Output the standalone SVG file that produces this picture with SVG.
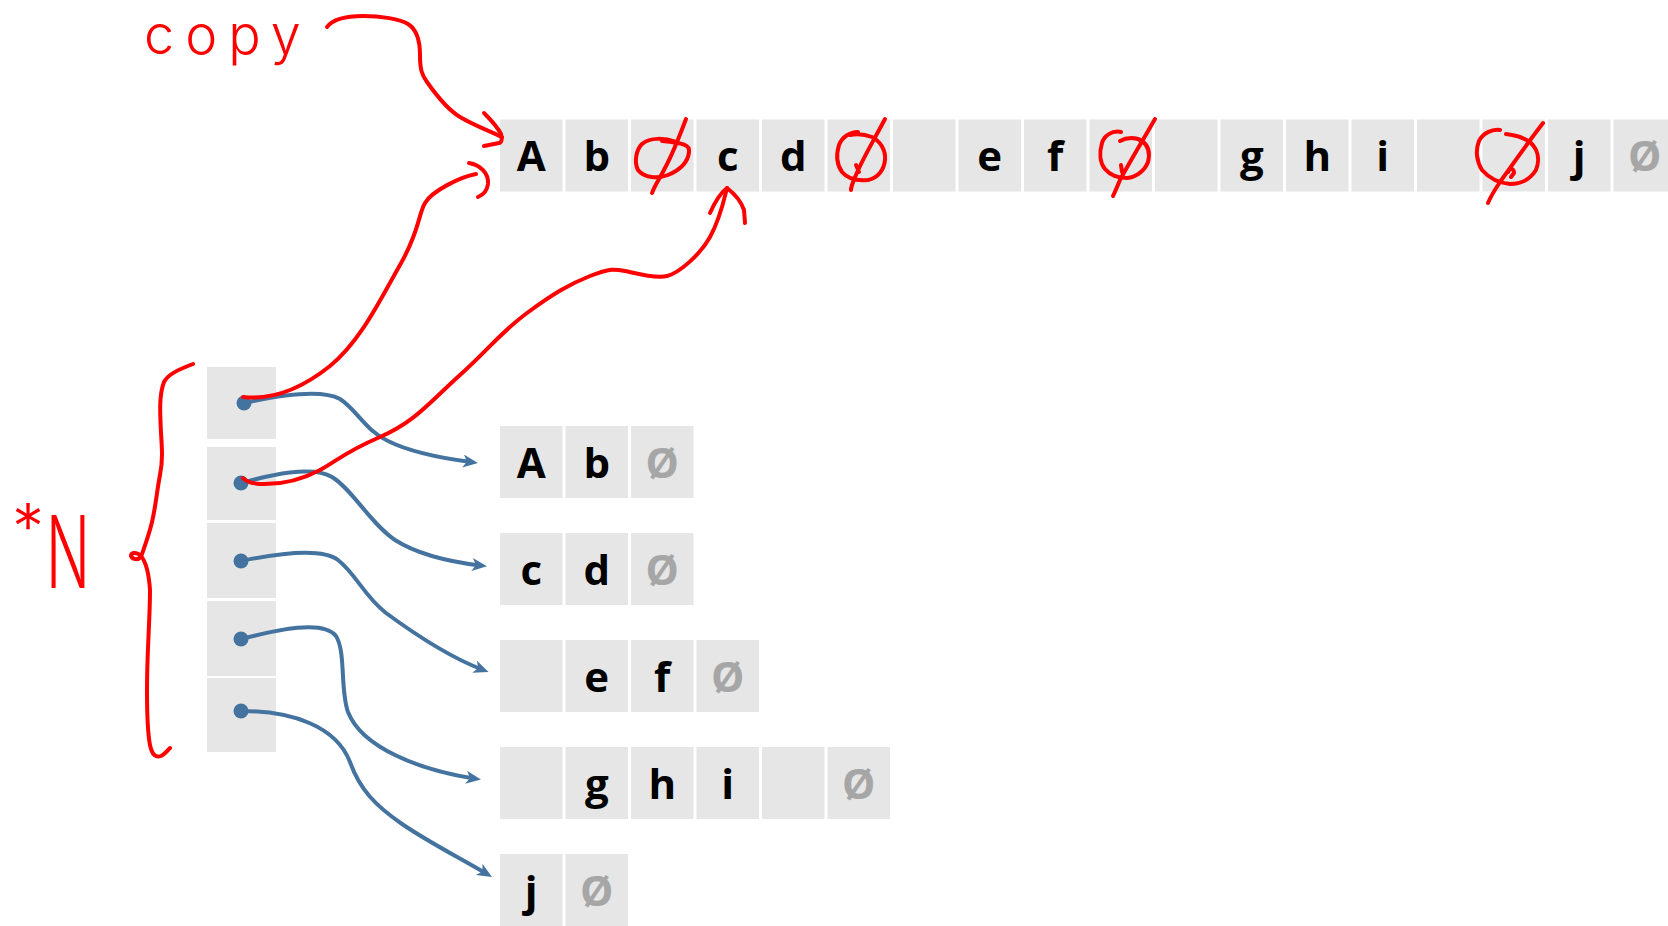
<svg xmlns="http://www.w3.org/2000/svg" width="1668" height="926" viewBox="0 0 1668 926">
<defs>
<style>
.cell{fill:#e6e6e6}
.t{font-family:"Open Sans","Liberation Sans",sans-serif;font-weight:700;font-size:42px;text-anchor:middle;fill:#000}
.n{fill:#a6a6a6}
.ink{fill:none;stroke:#ff0000;stroke-width:4;stroke-linecap:round;stroke-linejoin:round}
.hand{font-family:Inter,"Liberation Sans",sans-serif;font-weight:300;fill:#ff0000}
.conn{fill:none;stroke:#44739f;stroke-width:4}
.dot{fill:#44739f}
</style>
<marker id="arr" markerUnits="userSpaceOnUse" markerWidth="16" markerHeight="14" refX="8" refY="6.5" orient="auto">
<path d="M0,0 L15,6.5 L0,13 L4,6.5 Z" fill="#44739f"/>
</marker>
</defs>
<rect width="1668" height="926" fill="#ffffff"/>

<!-- top row -->
<g id="top-row">
<g id="top-0"><rect class="cell" x="500" y="119.5" width="62.5" height="72"/><text class="t" x="531.25" y="171">A</text></g>
<g id="top-1"><rect class="cell" x="565.5" y="119.5" width="62.5" height="72"/><text class="t" x="596.75" y="171">b</text></g>
<g id="top-2"><rect class="cell" x="631" y="119.5" width="62.5" height="72"/></g>
<g id="top-3"><rect class="cell" x="696.5" y="119.5" width="62.5" height="72"/><text class="t" x="727.75" y="171">c</text></g>
<g id="top-4"><rect class="cell" x="762" y="119.5" width="62.5" height="72"/><text class="t" x="793.25" y="171">d</text></g>
<g id="top-5"><rect class="cell" x="827.5" y="119.5" width="62.5" height="72"/></g>
<g id="top-6"><rect class="cell" x="893" y="119.5" width="62.5" height="72"/></g>
<g id="top-7"><rect class="cell" x="958.5" y="119.5" width="62.5" height="72"/><text class="t" x="989.75" y="171">e</text></g>
<g id="top-8"><rect class="cell" x="1024" y="119.5" width="62.5" height="72"/><text class="t" x="1055.25" y="171">f</text></g>
<g id="top-9"><rect class="cell" x="1089.5" y="119.5" width="62.5" height="72"/></g>
<g id="top-10"><rect class="cell" x="1155" y="119.5" width="62.5" height="72"/></g>
<g id="top-11"><rect class="cell" x="1220.5" y="119.5" width="62.5" height="72"/><text class="t" x="1251.75" y="171">g</text></g>
<g id="top-12"><rect class="cell" x="1286" y="119.5" width="62.5" height="72"/><text class="t" x="1317.25" y="171">h</text></g>
<g id="top-13"><rect class="cell" x="1351.5" y="119.5" width="62.5" height="72"/><text class="t" x="1382.75" y="171">i</text></g>
<g id="top-14"><rect class="cell" x="1417" y="119.5" width="62.5" height="72"/></g>
<g id="top-15"><rect class="cell" x="1482.5" y="119.5" width="62.5" height="72"/></g>
<g id="top-16"><rect class="cell" x="1548" y="119.5" width="62.5" height="72"/><text class="t" x="1579.25" y="171">j</text></g>
<g id="top-17"><rect class="cell" x="1613.5" y="119.5" width="62.5" height="72"/><text class="t n" x="1644.75" y="171">Ø</text></g>
</g>

<!-- pointer column -->
<g id="ptr-1"><rect class="cell" x="207" y="367" width="69" height="72"/><circle class="dot" cx="244" cy="403" r="7.5"/></g>
<g id="ptr-2"><rect class="cell" x="207" y="447" width="69" height="73"/><circle class="dot" cx="241" cy="483" r="7.5"/></g>
<g id="ptr-3"><rect class="cell" x="207" y="523" width="69" height="75"/><circle class="dot" cx="241" cy="561" r="7.5"/></g>
<g id="ptr-4"><rect class="cell" x="207" y="601" width="69" height="75"/><circle class="dot" cx="241" cy="639" r="7.5"/></g>
<g id="ptr-5"><rect class="cell" x="207" y="678" width="69" height="74"/><circle class="dot" cx="241" cy="711" r="7.5"/></g>

<!-- lower rows -->
<g id="row-1">
<g id="r1-0"><rect class="cell" x="500" y="426" width="62.5" height="72"/><text class="t" x="531.25" y="478">A</text></g>
<g id="r1-1"><rect class="cell" x="565.5" y="426" width="62.5" height="72"/><text class="t" x="596.75" y="478">b</text></g>
<g id="r1-2"><rect class="cell" x="631" y="426" width="62.5" height="72"/><text class="t n" x="662.25" y="478">Ø</text></g>
</g>
<g id="row-2">
<g id="r2-0"><rect class="cell" x="500" y="533" width="62.5" height="72"/><text class="t" x="531.25" y="585">c</text></g>
<g id="r2-1"><rect class="cell" x="565.5" y="533" width="62.5" height="72"/><text class="t" x="596.75" y="585">d</text></g>
<g id="r2-2"><rect class="cell" x="631" y="533" width="62.5" height="72"/><text class="t n" x="662.25" y="585">Ø</text></g>
</g>
<g id="row-3">
<g id="r3-0"><rect class="cell" x="500" y="640" width="62.5" height="72"/></g>
<g id="r3-1"><rect class="cell" x="565.5" y="640" width="62.5" height="72"/><text class="t" x="596.75" y="692">e</text></g>
<g id="r3-2"><rect class="cell" x="631" y="640" width="62.5" height="72"/><text class="t" x="662.25" y="692">f</text></g>
<g id="r3-3"><rect class="cell" x="696.5" y="640" width="62.5" height="72"/><text class="t n" x="727.75" y="692">Ø</text></g>
</g>
<g id="row-4">
<g id="r4-0"><rect class="cell" x="500" y="747" width="62.5" height="72"/></g>
<g id="r4-1"><rect class="cell" x="565.5" y="747" width="62.5" height="72"/><text class="t" x="596.75" y="799">g</text></g>
<g id="r4-2"><rect class="cell" x="631" y="747" width="62.5" height="72"/><text class="t" x="662.25" y="799">h</text></g>
<g id="r4-3"><rect class="cell" x="696.5" y="747" width="62.5" height="72"/><text class="t" x="727.75" y="799">i</text></g>
<g id="r4-4"><rect class="cell" x="762" y="747" width="62.5" height="72"/></g>
<g id="r4-5"><rect class="cell" x="827.5" y="747" width="62.5" height="72"/><text class="t n" x="858.75" y="799">Ø</text></g>
</g>
<g id="row-5">
<g id="r5-0"><rect class="cell" x="500" y="854" width="62.5" height="72"/><text class="t" x="531.25" y="906">j</text></g>
<g id="r5-1"><rect class="cell" x="565.5" y="854" width="62.5" height="72"/><text class="t n" x="596.75" y="906">Ø</text></g>
</g>

<!-- connectors -->
<g id="connectors">
<path class="conn" marker-end="url(#arr)" d="M244,403 C280,395 322,389 340,399 C356,409 366,431 388,441 C410,452 440,458 471,462"/>
<path class="conn" marker-end="url(#arr)" d="M241,483 C270,475 312,465 332,477 C352,489 370,523 395,540 C420,556 452,562 480,565.5"/>
<path class="conn" marker-end="url(#arr)" d="M241,561 C270,555 320,546 338,560 C356,574 364,596 386,613 C420,638 452,658 482,669.5"/>
<path class="conn" marker-end="url(#arr)" d="M241,639 C270,632 322,618 336,636 C346,652 340,690 348,712 C362,748 420,770 474,778.5"/>
<path class="conn" marker-end="url(#arr)" d="M241,711 C292,711 336,726 350,762 C360,790 376,806 402,824 C430,843 460,858 486,873.5"/>
</g>

<!-- handwritten annotations -->
<g id="annotations">
<text class="hand" x="144" y="54" font-size="54" letter-spacing="11">copy</text>
<path class="ink" d="M327,27 C333,19 345,16 363,16 S400,19 408,24 S420,40 420,55 S422,75 427,82 S445,108 460,117 S490,131 502,137"/>
<path class="ink" d="M484,113 Q497,126 501,134 Q503,142 499,143 L484,146"/>
<path class="ink" d="M243,397 C270,400 300,390 330,366 S380,300 400,265 S418,215 425,203 S460,177 476,174"/>
<path class="ink" d="M469,163 C480,165 489,173 488,184 C487,191 483,195 478,197"/>
<path class="ink" d="M243,478 Q247,483 260,484 C285,485 305,478 320,470 S345,452 380,437 S430,402 460,375 S500,333 527,313 S570,284 590,276 S615,269 625,271 S655,279 667,276 S700,255 710,237 S724,200 727,188"/>
<path class="ink" d="M710,213 Q718,195 727,188 Q740,198 744,210 L745,223"/>
<path class="ink" d="M676,142 C665,138 650,137 642,144 C636,150 634,162 638,170 C644,178 658,179 668,175 C680,170 688,162 689,152 C690,145 684,143 662,141"/>
<path class="ink" d="M686,119 C680,135 672,155 665,168 C660,178 655,185 652,193"/>
<path class="ink" d="M858,132 C850,132 842,137 839,145 C836,155 837,165 842,172 C848,179 858,181 868,180 C878,178 884,170 885,160 C886,150 880,141 872,137 C864,134 856,134 850,135"/>
<path class="ink" d="M885,119 C875,138 862,160 856,175 C853,182 851,186 851,190 M856,165 L859,172"/>
<path class="ink" d="M1121,132 C1112,130 1104,136 1102,143 C1099,153 1100,163 1105,169 C1110,175 1118,178 1127,178 C1137,177 1145,170 1148,162 C1150,154 1149,146 1142,141 C1136,137 1127,137 1120,141"/>
<path class="ink" d="M1155,119 C1143,140 1128,165 1120,180 C1117,187 1115,192 1113,196 M1121,165 L1122,172"/>
<path class="ink" d="M1500,130 C1492,129 1483,133 1479,141 C1475,151 1477,162 1482,170 C1489,178 1498,183 1510,184 C1522,184 1531,178 1536,170 C1540,160 1538,150 1531,143 C1524,137 1514,135 1506,134"/>
<path class="ink" d="M1543,123 C1530,140 1512,165 1500,182 C1494,191 1490,198 1488,203 M1508,172 C1510,168 1514,168 1514,173 L1511,177"/>
<path class="ink" d="M193,364 C180,369 168,374 164,382 C159,395 160,412 161,433 C162,448 163,460 160,475 C157,490 156,505 152,522 C149,535 144,548 141,557 C138,560 133,560 131,556 C131,552 137,552 141,556 C146,562 149,575 150,590 C150,620 147,650 147,690 C147,715 148,735 150,745 C152,755 156,758 161,756 C165,754 168,750 170,748"/>
<text class="hand" x="12" y="550" font-size="64">*</text>
<text class="hand" x="46" y="588" font-size="100" textLength="44" lengthAdjust="spacingAndGlyphs">N</text>
</g>
</svg>
